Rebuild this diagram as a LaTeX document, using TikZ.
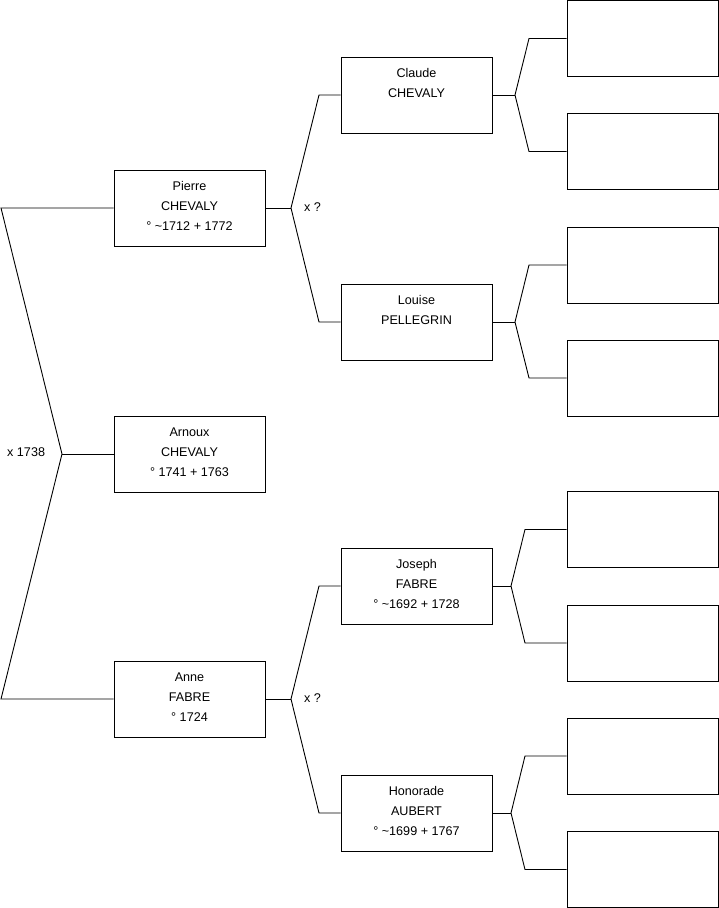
\documentclass[tikz,border=0pt]{standalone}
\usepackage{fontspec}
\setmainfont{Liberation Sans}
\newcommand\lstrut{\rule[-7.5pt]{0pt}{20pt}}
\newcommand\pl[3]{\lstrut#1\\\lstrut#2\\\lstrut#3}
\tikzset{
  person/.style={draw=black, line width=0.9pt, rectangle, minimum width=151pt, minimum height=76pt, inner sep=0pt, align=center, font=\fontsize{12.6}{20}\selectfont},
  link/.style={draw=black, line width=0.9pt},
  lbl/.style={font=\fontsize{12.6}{15}\selectfont, inner sep=0pt, anchor=west}
}
\begin{document}
\begin{tikzpicture}[x=1pt,y=-1pt]
\useasboundingbox (0,0) rectangle (719,908);
% generation 1
\node[person] (P) at (189.5,208) {\pl{Pierre}{CHEVALY}{° \textasciitilde1712 + 1772}};
\node[person] (A) at (189.5,454) {\pl{Arnoux}{CHEVALY}{° 1741 + 1763}};
\node[person] (F) at (189.5,699) {\pl{Anne}{FABRE}{° 1724}};
% generation 2
\node[person] (C) at (416.5,95) {\pl{Claude}{CHEVALY}{}};
\node[person] (L) at (416.5,322) {\pl{Louise}{PELLEGRIN}{}};
\node[person] (J) at (416.5,586) {\pl{Joseph}{FABRE}{° \textasciitilde1692 + 1728}};
\node[person] (H) at (416.5,813) {\pl{Honorade}{AUBERT}{° \textasciitilde1699 + 1767}};
% generation 3
\node[person] (E1) at (642.5,38.5) {};
\node[person] (E2) at (642.5,151.5) {};
\node[person] (E3) at (642.5,265) {};
\node[person] (E4) at (642.5,378) {};
\node[person] (E5) at (642.5,529.5) {};
\node[person] (E6) at (642.5,643) {};
\node[person] (E7) at (642.5,756) {};
\node[person] (E8) at (642.5,869.5) {};
% bracket coordinates
\coordinate (t0) at (1,208);
\coordinate (v0) at (62,454);
\coordinate (b0) at (1,699);
\coordinate (vP) at (291,208);
\coordinate (vF) at (291,699);
\coordinate (vC) at (515,95);
\coordinate (vL) at (515,322);
\coordinate (vJ) at (511,586);
\coordinate (vH) at (511,813);
% main bracket
\draw[link] (P.west) -- (t0) -- (v0) -- (b0) -- (F.west);
\draw[link] (v0) -- (A.west);
\node[lbl] (m0) at (7,452) {x 1738};
% Pierre
\draw[link] (P.east) -- (vP);
\draw[link] (C.west) -- (319,95) -- (vP) -- (319,322) -- (L.west);
\node[lbl] (mP) at (304,207) {x ?};
% Anne
\draw[link] (F.east) -- (vF);
\draw[link] (J.west) -- (319,586) -- (vF) -- (319,813) -- (H.west);
\node[lbl] (mF) at (304,698) {x ?};
% Claude
\draw[link] (C.east) -- (vC);
\draw[link] (E1.west) -- (529,38.5) -- (vC) -- (529,151.5) -- (E2.west);
% Louise
\draw[link] (L.east) -- (vL);
\draw[link] (E3.west) -- (529,265) -- (vL) -- (529,378) -- (E4.west);
% Joseph
\draw[link] (J.east) -- (vJ);
\draw[link] (E5.west) -- (525,529.5) -- (vJ) -- (525,643) -- (E6.west);
% Honorade
\draw[link] (H.east) -- (vH);
\draw[link] (E7.west) -- (525,756) -- (vH) -- (525,869.5) -- (E8.west);
\end{tikzpicture}
\end{document}
